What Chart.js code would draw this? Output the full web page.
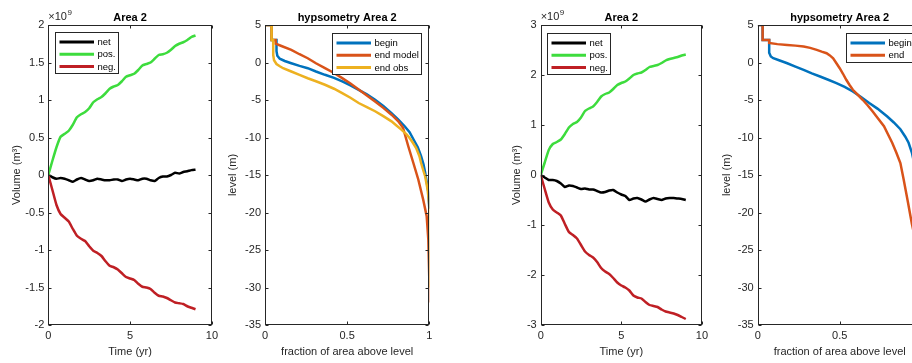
<!DOCTYPE html>
<html><head><meta charset="utf-8">
<script src="https://cdn.jsdelivr.net/npm/chart.js@4.4.1/dist/chart.umd.min.js"></script>
<style>
html,body{margin:0;padding:0;width:912px;height:363px;overflow:hidden;background:#fff;}
canvas.c{position:absolute;top:0;}
</style></head><body>
<canvas id="c1" class="c" style="left:0px;width:222px;height:363px" width="222" height="363"></canvas>
<canvas id="c2" class="c" style="left:222px;width:245px;height:363px" width="245" height="363"></canvas>
<canvas id="c3" class="c" style="left:490px;width:222px;height:363px" width="222" height="363"></canvas>
<canvas id="c4" class="c" style="left:712px;width:230px;height:363px" width="230" height="363"></canvas>
<script>
// ---------- data ----------
const years = [0,0.25,0.5,0.75,1,1.25,1.5,1.75,2,2.25,2.5,2.75,3,3.25,3.5,3.75,4,4.25,4.5,4.75,5,5.25,5.5,5.75,6,6.25,6.5,6.75,7,7.25,7.5,7.75,8,8.25,8.5,8.75,9];

// panel 1 (x1e9 m3)
const net1 = [0,-0.03,-0.05,-0.04,-0.05,-0.07,-0.09,-0.06,-0.04,-0.06,-0.08,-0.07,-0.05,-0.06,-0.07,-0.07,-0.06,-0.06,-0.08,-0.06,-0.05,-0.06,-0.07,-0.05,-0.05,-0.07,-0.08,-0.04,-0.02,-0.02,0.0,0.03,0.02,0.04,0.05,0.065,0.07];
const pos1 = [0,0.19,0.37,0.51,0.55,0.59,0.67,0.77,0.81,0.84,0.89,0.97,1.01,1.04,1.09,1.15,1.18,1.2,1.25,1.31,1.33,1.35,1.4,1.46,1.48,1.5,1.55,1.6,1.61,1.63,1.67,1.72,1.75,1.77,1.8,1.84,1.86];
const neg1 = [0,-0.2,-0.4,-0.52,-0.57,-0.62,-0.72,-0.81,-0.85,-0.88,-0.95,-1.01,-1.04,-1.08,-1.15,-1.21,-1.23,-1.26,-1.31,-1.36,-1.38,-1.4,-1.45,-1.49,-1.5,-1.52,-1.57,-1.61,-1.62,-1.64,-1.67,-1.7,-1.71,-1.72,-1.75,-1.77,-1.79];

// panel 3 (x1e9 m3)
const net3 = [0,-0.05,-0.1,-0.1,-0.12,-0.17,-0.24,-0.21,-0.22,-0.25,-0.28,-0.27,-0.29,-0.29,-0.32,-0.35,-0.34,-0.31,-0.3,-0.35,-0.39,-0.42,-0.5,-0.47,-0.46,-0.49,-0.53,-0.49,-0.46,-0.48,-0.5,-0.47,-0.46,-0.46,-0.47,-0.48,-0.5];
const pos3 = [0,0.25,0.5,0.62,0.66,0.71,0.82,0.95,1.02,1.06,1.15,1.28,1.33,1.37,1.46,1.57,1.62,1.65,1.72,1.8,1.84,1.87,1.93,2.0,2.03,2.05,2.1,2.16,2.18,2.2,2.24,2.29,2.32,2.34,2.36,2.39,2.41];
const neg3 = [0,-0.28,-0.55,-0.69,-0.75,-0.81,-0.98,-1.14,-1.2,-1.27,-1.4,-1.53,-1.6,-1.65,-1.74,-1.86,-1.93,-1.98,-2.06,-2.15,-2.21,-2.25,-2.31,-2.41,-2.45,-2.47,-2.54,-2.6,-2.62,-2.64,-2.69,-2.73,-2.75,-2.77,-2.8,-2.84,-2.88];

// panel 2 hypsometry (fraction of area above level, level m)
const begin2Frac  = [0,0.04,0.04,0.07,0.07,0.075,0.09,0.12,0.16,0.21,0.26,0.31,0.365,0.42,0.47,0.52,0.57,0.62,0.67,0.72,0.77,0.81,0.85,0.88,0.905,0.93,0.95,0.965,0.975,0.985,0.995,1.0];
const begin2Level = [5,5,3,3,1.5,0.9,0.5,0.2,-0.1,-0.45,-0.76,-1.2,-1.64,-2.05,-2.53,-3.05,-3.64,-4.25,-4.97,-5.8,-6.74,-7.6,-8.5,-9.3,-10.3,-11.3,-12.5,-13.6,-14.7,-16,-17.4,-19.5];
const model2Frac  = [0,0.04,0.04,0.065,0.065,0.1,0.16,0.21,0.26,0.31,0.365,0.42,0.47,0.52,0.57,0.62,0.67,0.72,0.77,0.81,0.84,0.872,0.903,0.933,0.963,0.984,0.994,1.0,1.0];
const model2Level = [5,5,3,3,2.5,2.2,1.68,1.1,0.57,-0.1,-0.76,-1.4,-2.08,-2.8,-3.6,-4.4,-5.2,-6.05,-6.96,-7.8,-8.7,-11.17,-13.4,-15.6,-18.3,-20.5,-23.6,-28.9,-32];
const obs2Frac    = [0,0.04,0.04,0.05,0.05,0.055,0.07,0.09,0.11,0.16,0.21,0.26,0.31,0.365,0.42,0.47,0.52,0.57,0.62,0.67,0.72,0.77,0.8,0.83,0.86,0.88,0.9,0.92,0.94,0.95,0.965,0.975,0.99,1.0,1.0];
const obs2Level   = [5,5,3,3,1.0,0.3,-0.2,-0.5,-0.76,-1.2,-1.65,-2.1,-2.5,-2.97,-3.5,-4.08,-4.7,-5.4,-5.95,-6.5,-7.15,-7.85,-8.4,-8.95,-9.55,-10.06,-10.7,-11.4,-12.5,-13.4,-14.5,-15.2,-17,-19,-30];

// panel 4 hypsometry
const begin4Frac  = [0,0.03,0.03,0.07,0.07,0.08,0.095,0.13,0.18,0.23,0.28,0.33,0.38,0.43,0.48,0.53,0.58,0.63,0.68,0.73,0.79,0.83,0.87,0.9,0.92,0.94,0.955,0.97,0.985,1.0];
const begin4Level = [5,5,3,3,1.3,0.8,0.57,0.3,-0.1,-0.55,-0.98,-1.45,-1.87,-2.3,-2.75,-3.25,-3.86,-4.6,-5.4,-6.15,-7.2,-8.0,-8.9,-9.9,-10.7,-12.0,-13.5,-15,-16.8,-19.5];
const end4Frac    = [0,0.03,0.03,0.07,0.07,0.12,0.18,0.23,0.28,0.32,0.36,0.39,0.42,0.44,0.46,0.48,0.5,0.52,0.54,0.56,0.58,0.61,0.64,0.67,0.7,0.735,0.77,0.795,0.82,0.845,0.87,0.89,0.915,0.94,0.96,0.98,1.0,1.0];
const end4Level   = [5,5,3,3,2.6,2.45,2.34,2.25,2.12,1.95,1.68,1.45,1.24,0.95,0.57,-0.1,-0.76,-1.5,-2.3,-3.0,-3.64,-4.3,-4.97,-5.7,-6.5,-7.5,-8.5,-9.6,-10.7,-12,-13.4,-15.6,-18.5,-21.5,-23.5,-25.5,-28,-32];

const timeTicks = [0,5,10];
const fracTicks = [0,0.5,1];

// ---------- styling helpers ----------
const FONT = "'Liberation Sans', Arial, Helvetica, sans-serif";
const AX = '#262626';
const C_NET = '#000000', C_POS = '#3ddc3d', C_NEG = '#bf1f24';
const C_BEGIN = '#0072bd', C_MODEL = '#d95319', C_OBS = '#edb120';

function pts(xs, ys) { return xs.map((x, i) => ({x: x, y: ys[i]})); }
function snap(v) { return Math.round(v) + 0.5; }

const matlabAxes = {
  id: 'matlabAxes',
  afterDraw(chart, args, opts) {
    const ctx = chart.ctx, a = chart.chartArea;
    ctx.save();
    // title
    ctx.fillStyle = '#000';
    ctx.font = 'bold 11px ' + FONT;
    ctx.textAlign = 'center'; ctx.textBaseline = 'middle';
    ctx.fillText(opts.title, (a.left + a.right) / 2, a.top - 7.5);
    // exponent
    if (opts.exponent) {
      ctx.fillStyle = AX; ctx.textAlign = 'left';
      ctx.font = '11px ' + FONT;
      ctx.fillText('\u00d710', a.left, a.top - 8);
      const w = ctx.measureText('\u00d710').width;
      ctx.font = '8px ' + FONT;
      ctx.fillText(opts.exponent, a.left + w + 0.5, a.top - 12);
    }
    // box
    const L = snap(a.left), R = snap(a.right) - 1, T = snap(a.top), B = snap(a.bottom) - 1;
    ctx.strokeStyle = AX; ctx.lineWidth = 1;
    ctx.strokeRect(L, T, R - L, B - T);
    // inward ticks
    const tl = 3;
    ctx.beginPath();
    chart.scales.x.ticks.forEach(t => {
      const px = snap(chart.scales.x.getPixelForValue(t.value));
      ctx.moveTo(px, B); ctx.lineTo(px, B - tl);
      ctx.moveTo(px, T); ctx.lineTo(px, T + tl);
    });
    chart.scales.y.ticks.forEach(t => {
      const py = snap(chart.scales.y.getPixelForValue(t.value));
      ctx.moveTo(L, py); ctx.lineTo(L + tl, py);
      ctx.moveTo(R, py); ctx.lineTo(R - tl, py);
    });
    ctx.stroke();
    // legend
    if (opts.legend) {
      const items = chart.data.datasets.map(d => ({label: d.label, color: d.borderColor}));
      ctx.font = '9.5px ' + FONT;
      const tw = Math.max(...items.map(i => ctx.measureText(i.label).width));
      const x0 = Math.round(a.left + opts.legend.x) + 0.5, y0 = Math.round(a.top + opts.legend.y) + 0.5;
      const w = Math.round(42 + tw + 3), h = Math.round(9.5 + (items.length - 1) * 12.2 + 7);
      ctx.fillStyle = '#fff'; ctx.fillRect(x0, y0, w, h);
      ctx.strokeStyle = AX; ctx.lineWidth = 1; ctx.strokeRect(x0, y0, w, h);
      items.forEach((it, i) => {
        const y = y0 + 9.5 + i * 12.2;
        ctx.strokeStyle = it.color; ctx.lineWidth = 3;
        ctx.beginPath(); ctx.moveTo(x0 + 4, y); ctx.lineTo(x0 + 38.5, y); ctx.stroke();
        ctx.fillStyle = '#000'; ctx.textAlign = 'left'; ctx.textBaseline = 'middle';
        ctx.fillText(it.label, x0 + 42, y + 0.5);
      });
    }
    ctx.restore();
  }
};

function fmt(v) { return String(Math.round(v * 1000) / 1000); }

function axisCfg(o) {
  return {
    type: 'linear', min: o.min, max: o.max,
    afterBuildTicks: s => { s.ticks = o.ticks.map(v => ({value: v})); },
    ticks: {autoSkip: false, padding: 4, color: AX, font: {family: FONT, size: 11}, callback: fmt, maxRotation: 0},
    grid: {display: false, drawTicks: false},
    border: {display: false},
    title: {display: true, text: o.title, color: AX, font: {family: FONT, size: 11},
            padding: o.tpad},
    afterFit: o.fit
  };
}

function lineDs(label, color, data, order) {
  return {label: label, data: data, borderColor: color, backgroundColor: color,
          borderWidth: 2.5, pointRadius: 0, tension: 0.15, fill: false, order: order};
}

function makeChart(id, cfg) {
  new Chart(document.getElementById(id), {
    type: 'line',
    data: {datasets: cfg.datasets},
    options: {
      responsive: false, animation: false, devicePixelRatio: 1,
      layout: {padding: {left: 0, right: cfg.padRight, top: 25, bottom: 0}},
      plugins: {legend: {display: false}, tooltip: {enabled: false}, title: {display: false},
                matlabAxes: cfg.axes},
      scales: {x: cfg.x, y: cfg.y}
    },
    plugins: [matlabAxes]
  });
}

const yTicks1 = [-2,-1.5,-1,-0.5,0,0.5,1,1.5,2];
const yTicks3 = [-3,-2,-1,0,1,2,3];
const levelTicks = [-35,-30,-25,-20,-15,-10,-5,0,5];

// Panel 1
makeChart('c1', {
  padRight: 10,
  datasets: [
    lineDs('net', C_NET, pts(years, net1), 3),
    lineDs('pos.', C_POS, pts(years, pos1), 2),
    lineDs('neg.', C_NEG, pts(years, neg1), 1)
  ],
  axes: {title: 'Area 2', exponent: '9', legend: {x: 6.7, y: 6.7}},
  x: axisCfg({min: 0, max: 10, ticks: timeTicks, title: 'Time (yr)', tpad: {top: 0, bottom: 4.7}, fit: s => { s.height = 38; }}),
  y: axisCfg({min: -2, max: 2, ticks: yTicks1, title: 'Volume (m\u00b3)', tpad: {top: 10.4, bottom: 0}, fit: s => { s.width = 48.3; }})
});

// Panel 2
makeChart('c2', {
  padRight: 37.7,
  datasets: [
    Object.assign(lineDs('begin', C_BEGIN, pts(begin2Frac, begin2Level), 3), {tension: 0}),
    Object.assign(lineDs('end model', C_MODEL, pts(model2Frac, model2Level), 2), {tension: 0}),
    Object.assign(lineDs('end obs', C_OBS, pts(obs2Frac, obs2Level), 1), {tension: 0})
  ],
  axes: {title: 'hypsometry Area 2', legend: {x: 66.7, y: 8.3}},
  x: axisCfg({min: 0, max: 1, ticks: fracTicks, title: 'fraction of area above level', tpad: {top: 0, bottom: 4.7}, fit: s => { s.height = 38; }}),
  y: axisCfg({min: -35, max: 5, ticks: levelTicks, title: 'level (m)', tpad: {top: 4.4, bottom: 0}, fit: s => { s.width = 43; }})
});

// Panel 3
makeChart('c3', {
  padRight: 7.3,
  datasets: [
    lineDs('net', C_NET, pts(years, net3), 3),
    lineDs('pos.', C_POS, pts(years, pos3), 2),
    lineDs('neg.', C_NEG, pts(years, neg3), 1)
  ],
  axes: {title: 'Area 2', exponent: '9', legend: {x: 6, y: 8.3}},
  x: axisCfg({min: 0, max: 10, ticks: timeTicks, title: 'Time (yr)', tpad: {top: 0, bottom: 4.7}, fit: s => { s.height = 38; }}),
  y: axisCfg({min: -3, max: 3, ticks: yTicks3, title: 'Volume (m\u00b3)', tpad: {top: 20, bottom: 0}, fit: s => { s.width = 50.7; }})
});

// Panel 4
makeChart('c4', {
  padRight: 20.3,
  datasets: [
    Object.assign(lineDs('begin', C_BEGIN, pts(begin4Frac, begin4Level), 2), {tension: 0}),
    Object.assign(lineDs('end', C_MODEL, pts(end4Frac, end4Level), 1), {tension: 0})
  ],
  axes: {title: 'hypsometry Area 2', legend: {x: 88.3, y: 8.3}},
  x: axisCfg({min: 0, max: 1, ticks: fracTicks, title: 'fraction of area above level', tpad: {top: 0, bottom: 4.7}, fit: s => { s.height = 38; }}),
  y: axisCfg({min: -35, max: 5, ticks: levelTicks, title: 'level (m)', tpad: {top: 8.1, bottom: 0}, fit: s => { s.width = 45.7; }})
});
</script>
</body></html>
